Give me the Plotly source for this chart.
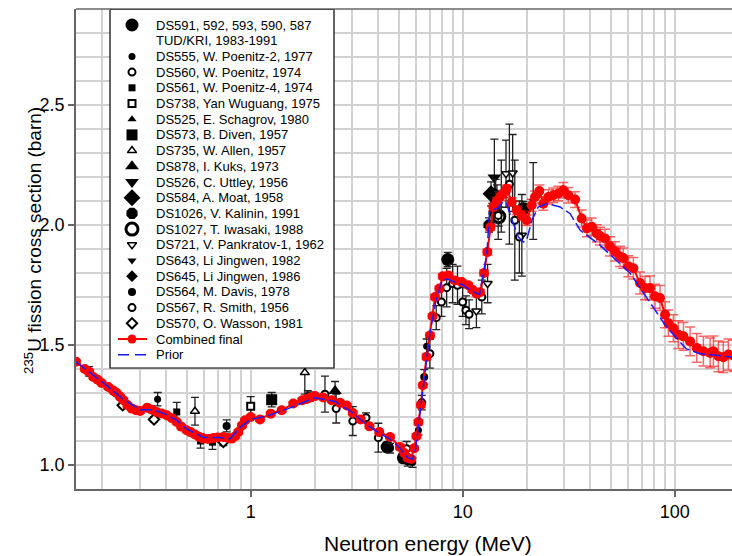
import math
import numpy as np
import plotly.graph_objects as go

# ---------------- DATA ----------------
# Combined final (energy MeV, cross section barn, uncertainty)
comb_E = [0.15, 0.165, 0.173, 0.181, 0.19, 0.198, 0.213, 0.225, 0.233, 0.242, 0.251, 0.262, 0.275,
          0.288, 0.301, 0.325, 0.342, 0.36, 0.38, 0.402, 0.425, 0.448, 0.47, 0.499, 0.52, 0.546,
          0.57, 0.598, 0.63, 0.667, 0.70, 0.743, 0.78, 0.813, 0.845, 0.875, 0.91, 0.94, 1.0,
          1.106, 1.242, 1.40, 1.588, 1.75, 1.837, 1.91, 2.01, 2.20, 2.41, 2.64, 2.84, 3.03,
          3.3, 3.63, 4.04, 4.54, 5.06, 5.3, 5.5, 5.7, 5.9, 6.05, 6.18, 6.35, 6.48, 6.75, 7.01,
          7.2, 7.4, 7.76, 8.05, 8.56, 9.2, 9.89, 10.63, 11.1, 11.64, 12.07, 12.6, 13.06, 13.5,
          13.94, 14.5, 14.99, 15.5, 16.13, 17.03, 17.98, 18.98, 20.04, 21.15, 21.93, 22.98,
          23.99, 25.33, 26.74, 28.24, 29.82, 31.5, 33.9, 36.4, 38.5, 40.6, 42.9, 44.4, 46.9,
          49.5, 52.3, 55.2, 57.2, 60.4, 63.8, 68.6, 72.4, 76.4, 80.7, 85.2, 90.0, 93.3, 98.5,
          104.0, 109.9, 118.1, 127.0, 136.5, 146.8, 152.1, 160.6, 169.4, 179.0, 190.0]
comb_y = [1.43, 1.40, 1.388, 1.367, 1.355, 1.342, 1.325, 1.31, 1.30, 1.285, 1.27, 1.25, 1.235,
          1.228, 1.225, 1.239, 1.23, 1.221, 1.215, 1.207, 1.195, 1.179, 1.16, 1.145, 1.137, 1.127,
          1.118, 1.11, 1.108, 1.112, 1.115, 1.117, 1.113, 1.11, 1.12, 1.1375, 1.165, 1.186, 1.20,
          1.19, 1.214, 1.228, 1.256, 1.27, 1.275, 1.281, 1.287, 1.281, 1.27, 1.259, 1.248, 1.217,
          1.19, 1.161, 1.137, 1.117, 1.075, 1.05, 1.03, 1.025, 1.07, 1.12, 1.179, 1.25, 1.332,
          1.45, 1.54, 1.62, 1.70, 1.735, 1.786, 1.79, 1.769, 1.762, 1.749, 1.73, 1.714, 1.72,
          1.80, 1.887, 1.99, 2.075, 2.10, 2.117, 2.13, 2.152, 2.096, 2.061, 2.04, 2.02, 2.082,
          2.117, 2.142, 2.089, 2.117, 2.124, 2.131, 2.145, 2.124, 2.106, 2.027, 1.986, 1.993,
          1.965, 1.954, 1.944, 1.911, 1.89, 1.869, 1.862, 1.828, 1.82, 1.758, 1.737, 1.737,
          1.703, 1.696, 1.626, 1.591, 1.57, 1.543, 1.536, 1.515, 1.488, 1.474, 1.467, 1.474,
          1.453, 1.449, 1.46, 1.455]
comb_err = [0.008, 0.008, 0.008, 0.008, 0.008, 0.008, 0.008, 0.008, 0.008, 0.008, 0.008, 0.008, 0.008,
            0.008, 0.008, 0.008, 0.008, 0.008, 0.008, 0.008, 0.008, 0.008, 0.008, 0.008, 0.008, 0.008,
            0.008, 0.008, 0.008, 0.008, 0.008, 0.008, 0.008, 0.008, 0.008, 0.008, 0.008, 0.008, 0.008,
            0.008, 0.008, 0.008, 0.008, 0.008, 0.008, 0.008, 0.008, 0.008, 0.008, 0.008, 0.008, 0.008,
            0.008, 0.008, 0.008, 0.008, 0.01, 0.01, 0.01, 0.01, 0.01, 0.01, 0.01, 0.01, 0.01, 0.01,
            0.01, 0.01, 0.01, 0.01, 0.01, 0.01, 0.01, 0.01, 0.01, 0.01, 0.01, 0.01, 0.012, 0.012,
            0.012, 0.015, 0.015, 0.015, 0.015, 0.015, 0.018, 0.018, 0.02, 0.022, 0.025, 0.025, 0.025,
            0.028, 0.03, 0.03, 0.03, 0.032, 0.032, 0.033, 0.035, 0.035, 0.036, 0.036, 0.037, 0.038,
            0.04, 0.04, 0.042, 0.042, 0.044, 0.045, 0.046, 0.048, 0.05, 0.05, 0.052, 0.054, 0.055,
            0.056, 0.058, 0.058, 0.06, 0.06, 0.062, 0.062, 0.063, 0.064, 0.064, 0.065, 0.065]

# Prior
prior_E = [0.15, 0.2, 0.25, 0.3, 0.35, 0.4, 0.45, 0.5, 0.6, 0.7, 0.8, 0.9, 1.0, 1.2, 1.5, 2.0,
           2.5, 3.0, 3.5, 4.0, 4.5, 5.0, 5.5, 5.8, 6.0, 6.3, 6.6, 7.0, 7.5, 8.0, 8.5, 9.0, 10.0,
           11.0, 12.0, 13.0, 13.4, 14.5, 15.5, 16.1, 17.3, 18.3, 19.3, 20.0, 21.2, 22.7, 24.9,
           28.8, 32.1, 35.8, 44.4, 61.5, 91.5, 113.0, 131.0, 152.0, 186.0, 200.0]
prior_y = [1.43, 1.345, 1.275, 1.23, 1.23, 1.21, 1.185, 1.15, 1.115, 1.115, 1.11, 1.16, 1.19,
           1.205, 1.235, 1.28, 1.265, 1.22, 1.17, 1.135, 1.11, 1.075, 1.03, 1.025, 1.07, 1.22,
           1.38, 1.55, 1.69, 1.77, 1.775, 1.765, 1.75, 1.725, 1.71, 1.88, 2.06, 2.068, 2.096,
           2.089, 2.006, 1.95, 1.929, 1.936, 2.02, 2.075, 2.089, 2.075, 2.047, 1.978, 1.916,
           1.80, 1.575, 1.485, 1.464, 1.457, 1.45, 1.448]

# Experimental data sets
ds591_E = [4.4, 5.25, 8.5, 19.3]
ds591_y = [1.075, 1.03, 1.856, 2.068]
ds591_err = [0.02, 0.02, 0.03, 0.03]

ds555_E = [0.364, 1.86, 5.8, 6.18, 6.76, 14.5]
ds555_y = [1.274, 1.29, 1.01, 1.145, 1.495, 2.117]
ds555_err = [0.028, 0.02, 0.02, 0.02, 0.03, 0.05]

ds560_E = [2.24, 2.53, 3.03, 3.5, 4.0, 7.0, 7.5, 7.94, 8.4]
ds560_y = [1.295, 1.235, 1.183, 1.197, 1.114, 1.464, 1.614, 1.679, 1.739]
ds560_err = [0.075, 0.06, 0.06, 0.02, 0.06, 0.06, 0.05, 0.06, 0.08]

ds561_E = [0.448, 0.58, 0.66]
ds561_y = [1.221, 1.10, 1.095]
ds561_err = [0.04, 0.03, 0.03]

ds738_E = [1.0]
ds738_y = [1.245]
ds738_err = [0.04]

ds525_E = [1.9]
ds525_y = [1.285]
ds525_err = [0.02]

ds573_E = [1.256]
ds573_y = [1.272]
ds573_err = [0.03]

ds735_E = [0.173, 0.546, 1.8]
ds735_y = [1.39, 1.224, 1.385]
ds735_err = [0.02, 0.058, 0.09]

ds878_E = [2.5]
ds878_y = [1.308]
ds878_err = [0.04]

ds526_E = [14.1]
ds526_y = [2.198]
ds526_err = [0.16]

ds584_E = [13.6]
ds584_y = [2.13]
ds584_err = [0.05]

ds1026_E = [13.3]
ds1026_y = [2.0]
ds1026_err = [0.03]

ds1027_E = [14.8]
ds1027_y = [2.035]
ds1027_err = [0.04]

ds721_E = [11.6, 13.1, 16.0, 17.2, 19.0]
ds721_y = [1.642, 1.756, 2.214, 2.217, 1.957]
ds721_err = [0.07, 0.08, 0.14, 0.16, 0.17]

ds643_E = [15.2, 21.5]
ds643_y = [2.12, 2.10]
ds643_err = [0.15, 0.16]

ds645_E = [14.3]
ds645_y = [2.13]
ds645_err = [0.06]

ds564_E = [0.77, 4.54, 5.5, 6.58, 13.8]
ds564_y = [1.163, 1.07, 1.015, 1.367, 2.05]
ds564_err = [0.025, 0.02, 0.02, 0.03, 0.04]

ds567_E = [5.44, 6.41, 8.96, 9.45, 9.99, 10.35, 10.72, 12.3, 14.7, 16.6, 17.6, 18.5]
ds567_y = [1.068, 1.26, 1.756, 1.749, 1.679, 1.645, 1.628, 1.70, 2.04, 2.17, 2.02, 1.95]
ds567_err = [0.03, 0.03, 0.08, 0.08, 0.06, 0.06, 0.06, 0.07, 0.1, 0.25, 0.25, 0.15]

ds570_E = [0.249, 0.35, 0.743]
ds570_y = [1.249, 1.19, 1.096]
ds570_err = [0.01, 0.01, 0.015]

legend_labels = [
    ["DS591, 592, 593, 590, 587", "TUD/KRI, 1983-1991"],
    ["DS555, W. Poenitz-2, 1977"],
    ["DS560, W. Poenitz, 1974"],
    ["DS561, W. Poenitz-4, 1974"],
    ["DS738, Yan Wuguang, 1975"],
    ["DS525, E. Schagrov, 1980"],
    ["DS573, B. Diven, 1957"],
    ["DS735, W. Allen, 1957"],
    ["DS878, I. Kuks, 1973"],
    ["DS526, C. Uttley, 1956"],
    ["DS584, A. Moat, 1958"],
    ["DS1026, V. Kalinin, 1991"],
    ["DS1027, T. Iwasaki, 1988"],
    ["DS721, V. Pankratov-1, 1962"],
    ["DS643, Li Jingwen, 1982"],
    ["DS645, Li Jingwen, 1986"],
    ["DS564, M. Davis, 1978"],
    ["DS567, R. Smith, 1956"],
    ["DS570, O. Wasson, 1981"],
    ["Combined final"],
    ["Prior"],
]

# ---------------- STYLES ----------------
# (E, y, err, symbol, size, filled, linewidth)
experiments = [
    (ds591_E, ds591_y, ds591_err, "circle", 13, True, 0),
    (ds555_E, ds555_y, ds555_err, "circle", 7, True, 0),
    (ds560_E, ds560_y, ds560_err, "circle", 7, False, 2),
    (ds561_E, ds561_y, ds561_err, "square", 7, True, 0),
    (ds738_E, ds738_y, ds738_err, "square", 7, False, 2),
    (ds525_E, ds525_y, ds525_err, "triangle-up", 8, True, 0),
    (ds573_E, ds573_y, ds573_err, "square", 11, True, 0),
    (ds735_E, ds735_y, ds735_err, "triangle-up", 8, False, 1.5),
    (ds878_E, ds878_y, ds878_err, "triangle-up", 12, True, 0),
    (ds526_E, ds526_y, ds526_err, "triangle-down", 12, True, 0),
    (ds584_E, ds584_y, ds584_err, "diamond", 13, True, 0),
    (ds1026_E, ds1026_y, ds1026_err, "octagon", 12, True, 0),
    (ds1027_E, ds1027_y, ds1027_err, "circle", 12, False, 3),
    (ds721_E, ds721_y, ds721_err, "triangle-down", 8, False, 1.5),
    (ds643_E, ds643_y, ds643_err, "triangle-down", 8, True, 0),
    (ds645_E, ds645_y, ds645_err, "diamond", 9, True, 0),
    (ds564_E, ds564_y, ds564_err, "circle", 8, True, 0),
    (ds567_E, ds567_y, ds567_err, "circle", 7, False, 2),
    (ds570_E, ds570_y, ds570_err, "diamond", 8, False, 2),
]

W, H = 732, 556
ML, MR, MT, MB = 76, 0, 9, 67
PW, PH = W - ML - MR, H - MT - MB
FONT = "Arial, Liberation Sans, sans-serif"

fig = go.Figure()


def marker_style(symbol, size, filled, lw):
    if filled:
        return dict(symbol=symbol, size=size, color="black", line=dict(width=0))
    return dict(symbol=symbol, size=size, color="white", line=dict(width=lw, color="black"))


for E, y, err, sym, size, filled, lw in experiments:
    fig.add_trace(go.Scatter(
        x=E, y=y, mode="markers", showlegend=False,
        marker=marker_style(sym, size, filled, lw),
        error_y=dict(type="data", array=err, color="#222222", thickness=1.3, width=4),
    ))

fig.add_trace(go.Scatter(
    x=comb_E, y=comb_y, mode="lines+markers", showlegend=False,
    line=dict(color="#ff0000", width=2),
    marker=dict(symbol="circle", size=10, color="#ff0000"),
    error_y=dict(type="data", array=comb_err, color="rgba(255,0,0,0.6)", thickness=1.5, width=5),
))

fig.add_trace(go.Scatter(
    x=prior_E, y=prior_y, mode="lines", showlegend=False,
    line=dict(color="#1a1aff", width=1.5, dash="12px,4px"),
))

# ---------------- Manual legend (overlay axes in pixel units) ----------------
box_x0, box_x1 = 110 - ML, 334 - ML
box_y0, box_y1 = 9.5 - MT, 368 - MT
fig.add_trace(go.Scatter(
    x=[box_x0, box_x1, box_x1, box_x0, box_x0], y=[box_y0, box_y0, box_y1, box_y1, box_y0],
    xaxis="x2", yaxis="y2", mode="lines", fill="toself", fillcolor="white",
    line=dict(color="black", width=1.2), showlegend=False, hoverinfo="skip",
))

row0, row_h = 25 - MT, 15.7
mx, tx = 132 - ML, 154 - ML
annotations = []
row = 0
for i, lines in enumerate(legend_labels):
    yc = row0 + row_h * row
    if i < len(experiments):
        _, _, _, sym, size, filled, lw = experiments[i]
        fig.add_trace(go.Scatter(x=[mx], y=[yc], xaxis="x2", yaxis="y2", mode="markers",
                                 marker=marker_style(sym, size, filled, lw), showlegend=False))
    elif lines[0] == "Combined final":
        fig.add_trace(go.Scatter(x=[mx - 14, mx, mx + 15], y=[yc, yc, yc], xaxis="x2", yaxis="y2",
                                 mode="lines", line=dict(color="#ff0000", width=2), showlegend=False))
        fig.add_trace(go.Scatter(x=[mx], y=[yc], xaxis="x2", yaxis="y2", mode="markers",
                                 marker=dict(size=9, color="#ff0000"), showlegend=False))
    else:
        fig.add_trace(go.Scatter(x=[mx - 14, mx + 15], y=[yc, yc], xaxis="x2", yaxis="y2",
                                 mode="lines", line=dict(color="#1a1aff", width=1.5, dash="11px,6px"),
                                 showlegend=False))
    for ln in lines:
        annotations.append(dict(x=tx, y=row0 + row_h * row, xref="x2", yref="y2", text=ln,
                                showarrow=False, xanchor="left", yanchor="middle",
                                font=dict(family=FONT, size=13, color="black")))
        row += 1

# Axis titles
annotations.append(dict(text="Neutron energy (MeV)", x=(428 - ML) / PW, y=1 - (543 - MT) / PH,
                        xref="paper", yref="paper", showarrow=False, xanchor="center", yanchor="middle",
                        font=dict(family=FONT, size=21, color="black")))
annotations.append(dict(text="<sup>235</sup>U fission cross section (barn)", textangle=-90,
                        x=(33 - ML) / PW, y=1 - (241 - MT) / PH, xref="paper", yref="paper",
                        showarrow=False, xanchor="center", yanchor="middle",
                        font=dict(family=FONT, size=19, color="black")))

grid = "#d2d2d2"
x_minor = [0.2, 0.3, 0.4, 0.5, 0.6, 0.7, 0.8, 0.9, 2, 3, 4, 5, 6, 7, 8, 9,
           20, 30, 40, 50, 60, 70, 80, 90]
y_minor = [round(v, 1) for v in np.arange(0.9, 2.95, 0.1)]

fig.update_layout(
    width=W, height=H, margin=dict(l=ML, r=MR, t=MT, b=MB),
    paper_bgcolor="white", plot_bgcolor="white",
    font=dict(family=FONT, color="black"),
    annotations=annotations,
    xaxis=dict(type="log", range=[math.log10(0.15), 2.27], tickmode="array",
               tickvals=[1, 10, 100], ticktext=["1", "10", "100"], ticks="outside", ticklen=6,
               tickcolor="#666", tickwidth=1.5, showline=True, linecolor="#666", linewidth=1.5,
               showgrid=True, gridcolor=grid, gridwidth=1.5, zeroline=False,
               tickfont=dict(size=18, family=FONT),
               minor=dict(tickmode="array", tickvals=x_minor, showgrid=True, gridcolor=grid,
                          gridwidth=1.5, ticks="")),
    yaxis=dict(range=[0.9, 2.9], tickmode="array", tickvals=[1.0, 1.5, 2.0, 2.5],
               ticktext=["1.0", "1.5", "2.0", "2.5"], ticks="outside", ticklen=6,
               tickcolor="#666", tickwidth=1.5, showline=True, linecolor="#666", linewidth=1.5,
               showgrid=True, gridcolor=grid, gridwidth=1.5, zeroline=False,
               tickfont=dict(size=18, family=FONT),
               minor=dict(tickmode="array", tickvals=y_minor, showgrid=True, gridcolor=grid,
                          gridwidth=1.5, ticks="")),
    xaxis2=dict(overlaying="x", range=[0, PW], visible=False, showgrid=False, zeroline=False),
    yaxis2=dict(overlaying="y", range=[PH, 0], visible=False, showgrid=False, zeroline=False),
    shapes=[dict(type="line", xref="paper", yref="paper", x0=0, x1=1, y0=1, y1=1,
                 line=dict(color="#666", width=1.5))],
)

fig.write_html("out.html")
